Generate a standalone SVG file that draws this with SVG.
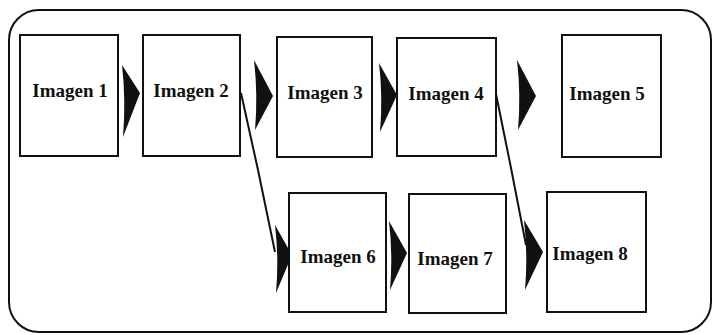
<svg xmlns="http://www.w3.org/2000/svg" width="714" height="335" viewBox="0 0 714 335">
  <style>
    .frame { fill: none; stroke: #111; stroke-width: 2; }
    .box { fill: #fff; stroke: #111; stroke-width: 2; }
    .lbl { font-family: "Liberation Serif", "Times New Roman", serif; font-weight: bold; font-size: 19px; fill: #111; text-anchor: middle; }
    .wire { fill: none; stroke: #111; stroke-width: 2; }
    .head { fill: #111; stroke: none; }
  </style>

  <rect id="frame" class="frame" x="9" y="10" width="702" height="322" rx="30" ry="30"/>

  <g id="connectors">
    <!-- diagonal links from the top row down to the bottom row -->
    <path class="wire" d="M241,93 L258,170 L275,252"/>
    <path class="wire" d="M496,94 L511,168 L526,245"/>
    <!-- flow arrowheads -->
    <path class="head" d="M122,65 L140,93 L123,137 Q126,100 122,65 Z"/>
    <path class="head" d="M254,60 L273,96 L255,130 Q258,95 254,60 Z"/>
    <path class="head" d="M379,63 L397,95 L380,132 Q383,97 379,63 Z"/>
    <path class="head" d="M517,60 L536,96 L518,130 Q521,95 517,60 Z"/>
    <path class="head" d="M275,225 L292,255 L276,293 Q279,258 275,225 Z"/>
    <path class="head" d="M389,221 L407,253 L390,290 Q393,255 389,221 Z"/>
    <path class="head" d="M524,220 L543,252 L525,290 Q528,255 524,220 Z"/>
  </g>

  <g id="imagen1">
    <rect class="box" x="20" y="35" width="98" height="121"/>
    <text class="lbl" x="70" y="97">Imagen 1</text>
  </g>
  <g id="imagen2">
    <rect class="box" x="143" y="35" width="97" height="121"/>
    <text class="lbl" x="191" y="97">Imagen 2</text>
  </g>
  <g id="imagen3">
    <rect class="box" x="277" y="37" width="95" height="120"/>
    <text class="lbl" x="325" y="99">Imagen 3</text>
  </g>
  <g id="imagen4">
    <rect class="box" x="397" y="38" width="99" height="118"/>
    <text class="lbl" x="446" y="100">Imagen 4</text>
  </g>
  <g id="imagen5">
    <rect class="box" x="562" y="35" width="99" height="122"/>
    <text class="lbl" x="607" y="100">Imagen 5</text>
  </g>
  <g id="imagen6">
    <rect class="box" x="289" y="193" width="97" height="119"/>
    <text class="lbl" x="338" y="263">Imagen 6</text>
  </g>
  <g id="imagen7">
    <rect class="box" x="409" y="194" width="97" height="119"/>
    <text class="lbl" x="455" y="265">Imagen 7</text>
  </g>
  <g id="imagen8">
    <rect class="box" x="547" y="192" width="99" height="120"/>
    <text class="lbl" x="590" y="260">Imagen 8</text>
  </g>
</svg>
